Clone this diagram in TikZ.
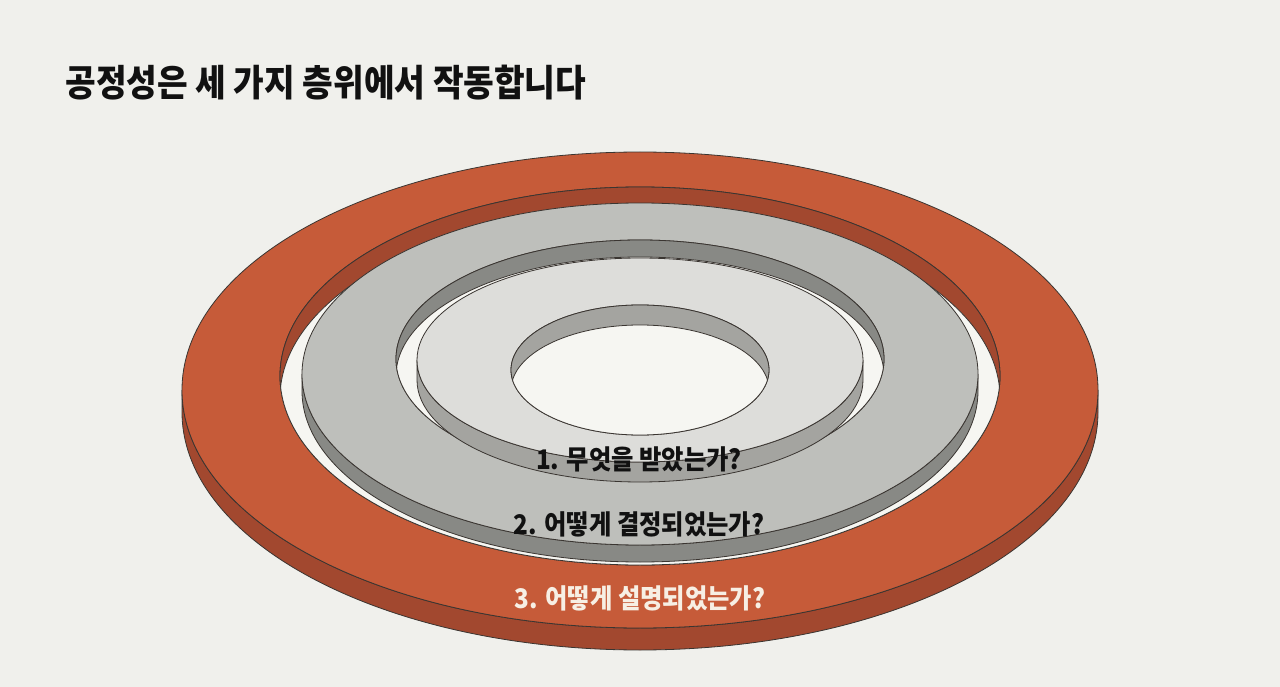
\documentclass[tikz,border=0pt]{standalone}
\usepackage{fontspec}
\setmainfont{Noto Sans CJK KR}[FakeStretch=0.9]
\newfontfamily\krblack{Noto Sans CJK KR Black}[FakeStretch=0.9]
\definecolor{paper}{HTML}{F0F0EC}
\definecolor{hole}{HTML}{F6F6F2}
\definecolor{ink}{HTML}{111111}
\definecolor{cream}{HTML}{F7EFE4}
\definecolor{edge}{HTML}{3A3531}
\definecolor{orangeface}{HTML}{C65B39}
\definecolor{orangeside}{HTML}{A2482F}
\definecolor{midface}{HTML}{BEBFBB}
\definecolor{midside}{HTML}{888985}
\definecolor{lightface}{HTML}{DDDDDA}
\definecolor{lightside}{HTML}{A4A4A0}

\begin{document}
\begin{tikzpicture}[x=1pt, y=-1pt,
    ringedge/.style={draw=edge, line width=0.8pt},
    heading/.style={font=\krblack\fontsize{37}{43}\selectfont, text=ink},
    lvl/.style={font=\krblack\fontsize{27}{32}\selectfont, text=ink}]
    \useasboundingbox[fill=paper] (0,0) rectangle (1280,687);

    % Title
    \node[heading, anchor=west] (title) at (62,83) {공정성은 세 가지 층위에서 작동합니다};

    % Rings: outer first, each one on top of the last
    \foreach \face/\side/\cy/\rx/\ry/\hy/\hx/\hr/\dep in {
        orangeface/orangeside/390/458/238/376/360/189/22,
        midface/midside/374/338/171/359/244/119/17,
        lightface/lightside/360/223/102/370/129/65/20} {
        % outer wall
        \filldraw[fill=\side, ringedge] (640-\rx,\cy) -- (640-\rx,\cy+\dep)
            arc[start angle=180, end angle=360, x radius=\rx pt, y radius=\ry pt]
            -- (640+\rx,\cy)
            arc[start angle=0, end angle=-180, x radius=\rx pt, y radius=\ry pt] -- cycle;
        % top face
        \filldraw[fill=\face, ringedge, even odd rule]
            (640,\cy) ellipse[x radius=\rx pt, y radius=\ry pt]
            (640,\hy) ellipse[x radius=\hx pt, y radius=\hr pt];
        % wall inside the hole
        \fill[\side] (640,\hy) ellipse[x radius=\hx pt, y radius=\hr pt];
        \begin{scope}
            \clip (640,\hy) ellipse[x radius=\hx pt, y radius=\hr pt];
            \filldraw[fill=hole, ringedge] (640,\hy+\dep) ellipse[x radius=\hx pt, y radius=\hr pt];
        \end{scope}
        \draw[ringedge] (640,\hy) ellipse[x radius=\hx pt, y radius=\hr pt];
    }

    % Level labels
    \node[lvl] (what) at (639,459) {1. 무엇을 받았는가?};
    \node[lvl] (how) at (639,524) {2. 어떻게 결정되었는가?};
    \node[lvl, text=cream] (why) at (640,598) {3. 어떻게 설명되었는가?};
\end{tikzpicture}
\end{document}
